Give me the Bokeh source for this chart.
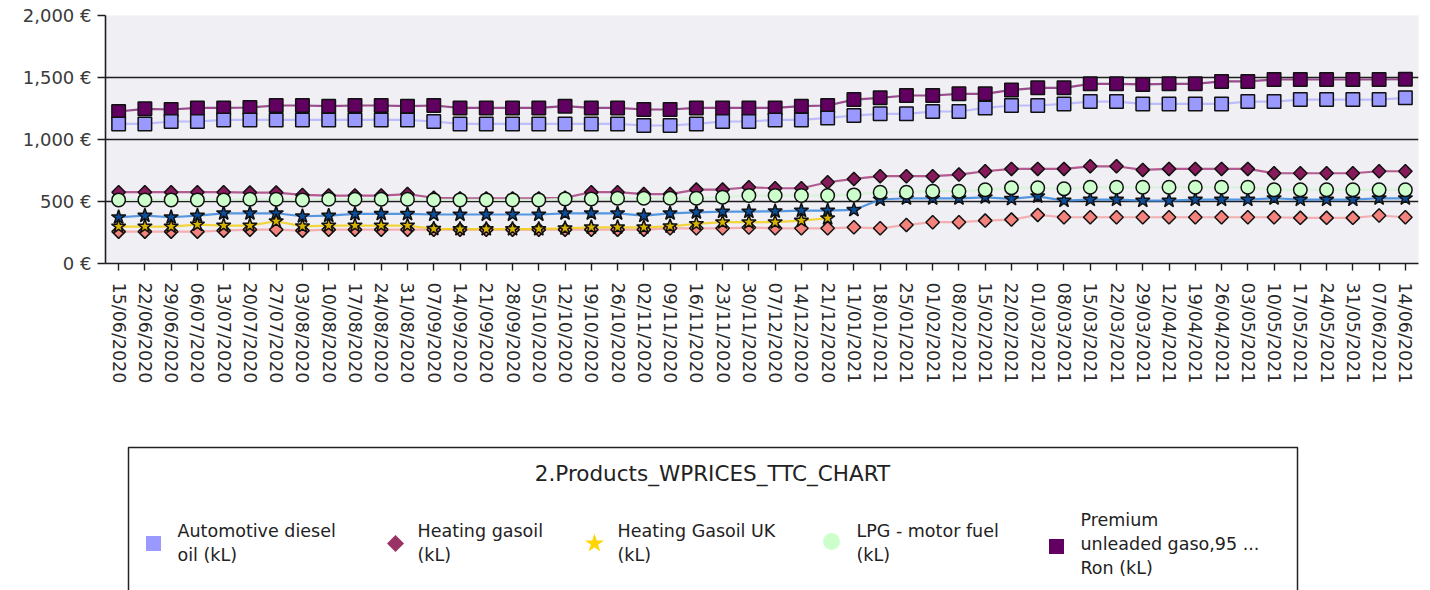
import math
import numpy as np
from bokeh.plotting import figure
from bokeh.layouts import column
from bokeh.models import FactorRange, Range1d, FixedTicker
from bokeh.core.properties import value
from bokeh.embed import file_html
from bokeh.resources import INLINE

# ---------------- data ----------------
dates = ["15/06/2020", "22/06/2020", "29/06/2020", "06/07/2020", "13/07/2020", "20/07/2020",
         "27/07/2020", "03/08/2020", "10/08/2020", "17/08/2020", "24/08/2020", "31/08/2020",
         "07/09/2020", "14/09/2020", "21/09/2020", "28/09/2020", "05/10/2020", "12/10/2020",
         "19/10/2020", "26/10/2020", "02/11/2020", "09/11/2020", "16/11/2020", "23/11/2020",
         "30/11/2020", "07/12/2020", "14/12/2020", "21/12/2020", "11/01/2021", "18/01/2021",
         "25/01/2021", "01/02/2021", "08/02/2021", "15/02/2021", "22/02/2021", "01/03/2021",
         "08/03/2021", "15/03/2021", "22/03/2021", "29/03/2021", "12/04/2021", "19/04/2021",
         "26/04/2021", "03/05/2021", "10/05/2021", "17/05/2021", "24/05/2021", "31/05/2021",
         "07/06/2021", "14/06/2021"]

diesel = [1126, 1126, 1145, 1145, 1158, 1158, 1158, 1158, 1158, 1158, 1158, 1158, 1145, 1126,
          1126, 1126, 1126, 1126, 1126, 1126, 1113, 1113, 1126, 1145, 1145, 1158, 1158, 1174,
          1193, 1207, 1207, 1226, 1226, 1255, 1274, 1274, 1287, 1306, 1306, 1287, 1287, 1287,
          1287, 1306, 1306, 1322, 1322, 1322, 1322, 1336]

heating_gasoil = [575, 575, 575, 575, 575, 572, 572, 553, 548, 548, 548, 560, 530, 525, 525,
                  525, 525, 530, 575, 575, 560, 560, 596, 596, 615, 607, 607, 655, 682, 704,
                  704, 704, 717, 744, 763, 763, 763, 784, 784, 755, 763, 763, 763, 763, 728,
                  728, 728, 728, 744, 744]

heating_gasoil_uk = [298, 298, 298, 314, 306, 306, 341, 300, 306, 306, 306, 306, 280, 278, 278,
                     278, 278, 284, 292, 292, 292, 300, 319, 333, 333, 333, 346, 365,
                     None, None, None, None, None, None, None, None, None, None, None, None,
                     None, None, None, None, None, None, None, None, None, None]

lpg = [513, 513, 513, 513, 513, 518, 518, 513, 518, 518, 518, 518, 513, 513, 513, 513, 513,
       521, 521, 526, 526, 526, 526, 534, 548, 548, 548, 548, 553, 575, 575, 583, 583, 594,
       610, 610, 602, 615, 615, 615, 615, 615, 615, 615, 594, 594, 594, 594, 594, 594]

premium95 = [1226, 1247, 1242, 1255, 1255, 1258, 1274, 1274, 1269, 1274, 1274, 1269, 1274, 1255,
             1255, 1255, 1255, 1269, 1255, 1255, 1242, 1242, 1255, 1255, 1255, 1255, 1269, 1274,
             1322, 1336, 1355, 1355, 1368, 1368, 1400, 1417, 1417, 1449, 1449, 1444, 1449, 1449,
             1468, 1468, 1484, 1484, 1484, 1484, 1484, 1486]

# two further series whose legend entries are cut off in the reference
series_blue_star = [373, 386, 373, 386, 405, 405, 405, 381, 386, 400, 400, 400, 395, 395, 395,
                    395, 395, 405, 405, 405, 386, 405, 413, 419, 419, 421, 427, 427, 432, 516,
                    526, 526, 526, 534, 521, 542, 507, 515, 515, 507, 507, 515, 515, 515, 526,
                    515, 515, 515, 526, 526]

series_salmon = [257, 257, 257, 257, 265, 273, 273, 265, 273, 273, 273, 273, 273, 273, 273, 273,
                 273, 273, 273, 273, 273, 284, 284, 284, 290, 284, 284, 284, 292, 284, 311, 333,
                 333, 346, 354, 392, 373, 373, 373, 373, 373, 373, 373, 373, 373, 368, 368, 368,
                 387, 373]

y_ticks = [0, 500, 1000, 1500, 2000]
y_tick_labels = ["0 €", "500 €", "1,000 €", "1,500 €", "2,000 €"]

chart_title = "2.Products_WPRICES_TTC_CHART"
legend_lines = [["Automotive diesel", "oil (kL)"],
                ["Heating gasoil", "(kL)"],
                ["Heating Gasoil UK", "(kL)"],
                ["LPG - motor fuel", "(kL)"],
                ["Premium", "unleaded gaso,95 ...", "Ron (kL)"]]


def arr(v):
    return np.array([np.nan if a is None else a for a in v], dtype=float)


FONT = value("DejaVu Sans")
W = 1430
H_MAIN = 440
H_LEG = 150
BL, BR = 105, 12

# ---------------- main chart ----------------
p = figure(width=W, height=H_MAIN,
           x_range=FactorRange(*dates), y_range=Range1d(0, 2000),
           output_backend="svg", toolbar_location=None,
           min_border_left=BL, min_border_right=BR, min_border_top=15, min_border_bottom=177,
           background_fill_color="#efeff4", border_fill_color="white",
           outline_line_color=None)

p.xgrid.visible = False
p.ygrid.grid_line_color = "#1e1e1e"
p.ygrid.grid_line_width = 1.6
p.ygrid.ticker = FixedTicker(ticks=y_ticks)

p.yaxis.ticker = FixedTicker(ticks=y_ticks)
p.yaxis.major_label_overrides = {t: l for t, l in zip(y_ticks, y_tick_labels)}
p.yaxis.minor_tick_line_color = None
p.yaxis.major_tick_out = 8
p.yaxis.major_tick_in = 0
p.yaxis.major_label_standoff = 6
p.yaxis.major_label_text_font_size = "18px"
p.yaxis.major_label_text_color = "#3a3a3a"
p.yaxis.major_label_text_font = "DejaVu Sans"
p.yaxis.axis_line_color = "#1e1e1e"
p.yaxis.axis_line_width = 1.6
p.yaxis.major_tick_line_color = "#1e1e1e"
p.yaxis.major_tick_line_width = 1.4

p.xaxis.major_label_orientation = "vertical"
p.xaxis.major_tick_out = 7
p.xaxis.major_tick_in = 0
p.xaxis.major_label_standoff = 12
p.xaxis.major_label_text_font_size = "17.5px"
p.xaxis.major_label_text_color = "#2a2a2a"
p.xaxis.major_label_text_font = "DejaVu Sans"
p.xaxis.axis_line_color = "#1e1e1e"
p.xaxis.axis_line_width = 1.6
p.xaxis.major_tick_line_color = "#1e1e1e"
p.xaxis.major_tick_line_width = 1.4

series = [
    # values, line colour, marker, fill, size, angle
    (series_salmon, "#f5a3a3", "square", "#f4837d", 9.5, math.pi / 4),
    (series_blue_star, "#3a86dc", "star", "#0b4f9c", 15, 0),
    (heating_gasoil_uk, "#f2cf1a", "star", "#d8b400", 15, 0),
    (premium95, "#8a2e7a", "square", "#620062", 13.5, 0),
    (heating_gasoil, "#a8407e", "square", "#861a5a", 9.5, math.pi / 4),
    (lpg, "#d6f3d6", "circle", "#ccffcc", 13.5, 0),
    (diesel, "#b4b4ff", "square", "#9999ff", 13.5, 0),
]

for vals, lc, _, _, _, _ in series:
    p.line(x=dates, y=arr(vals), line_color=lc, line_width=2.2, line_alpha=0.85)

for vals, _, mk, fc, sz, ang in series:
    p.scatter(x=dates, y=arr(vals), marker=mk, size=sz, angle=ang,
              fill_color=fc, line_color="#111111", line_width=1.5)

# ---------------- legend (own panel, page-pixel coordinates) ----------------
lg = figure(width=W, height=H_LEG, x_range=Range1d(BL, W - BR),
            y_range=Range1d(H_MAIN + H_LEG, H_MAIN),
            output_backend="svg", toolbar_location=None,
            min_border_left=BL, min_border_right=BR, min_border_top=0, min_border_bottom=0,
            x_axis_location=None, y_axis_location=None, outline_line_color=None,
            background_fill_color="white", border_fill_color="white")
lg.grid.visible = False

lg.line(x=[128, 128, 1297, 1297], y=[600, 447, 447, 600], line_color="#222222", line_width=1.5)
lg.text(x=[712], y=[473], text=[chart_title], text_align="center", text_baseline="middle",
        text_font=FONT, text_font_size="21.5px", text_color="#222222")

leg_marker = [("square", "#9999ff", 15, 0),
              ("square", "#993366", 12, math.pi / 4),
              ("star", "#ffd400", 20, 0),
              ("circle", "#ccffcc", 17, 0),
              ("square", "#620062", 15, 0)]
leg_mx = [153, 395, 594, 831, 1056]
leg_my = [543, 543, 543, 541, 546]
leg_tx = [177, 417, 617, 856, 1080]

for i, (mk, fc, sz, ang) in enumerate(leg_marker):
    lg.scatter(x=[leg_mx[i]], y=[leg_my[i]], marker=mk, size=sz, angle=ang,
               fill_color=fc, line_color=None)
    lines = legend_lines[i]
    if len(lines) == 2:
        ys = [530, 554]
    else:
        ys = [519, 543, 567]
    lg.text(x=[leg_tx[i]] * len(lines), y=ys, text=lines, text_align="left",
            text_baseline="middle", text_font=FONT, text_font_size="17.5px",
            text_color="#222222")

layout = column(p, lg, spacing=0)
open("out.html", "w").write(file_html(layout, INLINE))
